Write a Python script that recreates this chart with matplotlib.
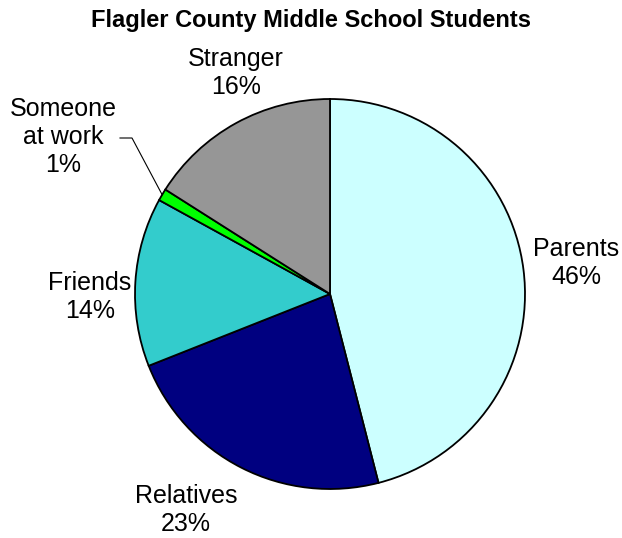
import numpy as np
import matplotlib.pyplot as plt

plt.rcParams['font.family'] = ['Liberation Sans', 'DejaVu Sans']

title = 'Flagler County Middle School Students'
categories = ['Parents', 'Relatives', 'Friends', 'Someone\nat work', 'Stranger']
shares = [46, 23, 14, 1, 16]
colors = ['#CCFFFF', '#000080', '#33CCCC', '#00FF00', '#969696']

# label anchor points in pixel space (x from left, y from top)
label_xy = [(576, 263), (186, 510), (90, 297), (63, 137), (236, 73)]

W, H = 622, 538
cx, cy, rad = 330, 294, 195

fig = plt.figure(figsize=(W / 100, H / 100), dpi=100)
ax = fig.add_axes([0, 0, 1, 1])

wedges, _ = ax.pie(shares, colors=colors, startangle=90, counterclock=False,
                   center=(cx, H - cy), radius=rad, frame=True,
                   wedgeprops=dict(edgecolor='black', linewidth=1.3))
ax.set_xlim(0, W)
ax.set_ylim(0, H)
ax.set_aspect('equal')
ax.axis('off')

for name, pct, (x, y) in zip(categories, shares, label_xy):
    ax.text(x, H - y, '{}\n{}%'.format(name, pct), ha='center', va='center',
            fontsize=18, linespacing=1.2)

# leader line for the small slice
w = wedges[3]
mid = np.deg2rad((w.theta1 + w.theta2) / 2)
ex, ey = cx + rad * np.cos(mid), (H - cy) + rad * np.sin(mid)
ax.plot([ex, 132, 120], [ey, H - 138, H - 138], color='black', linewidth=0.8)

fig.text(0.5, 1 - 21 / H, title, ha='center', va='center',
         fontsize=17, fontweight='bold')

fig.savefig('out.png', dpi=100, facecolor='white')
